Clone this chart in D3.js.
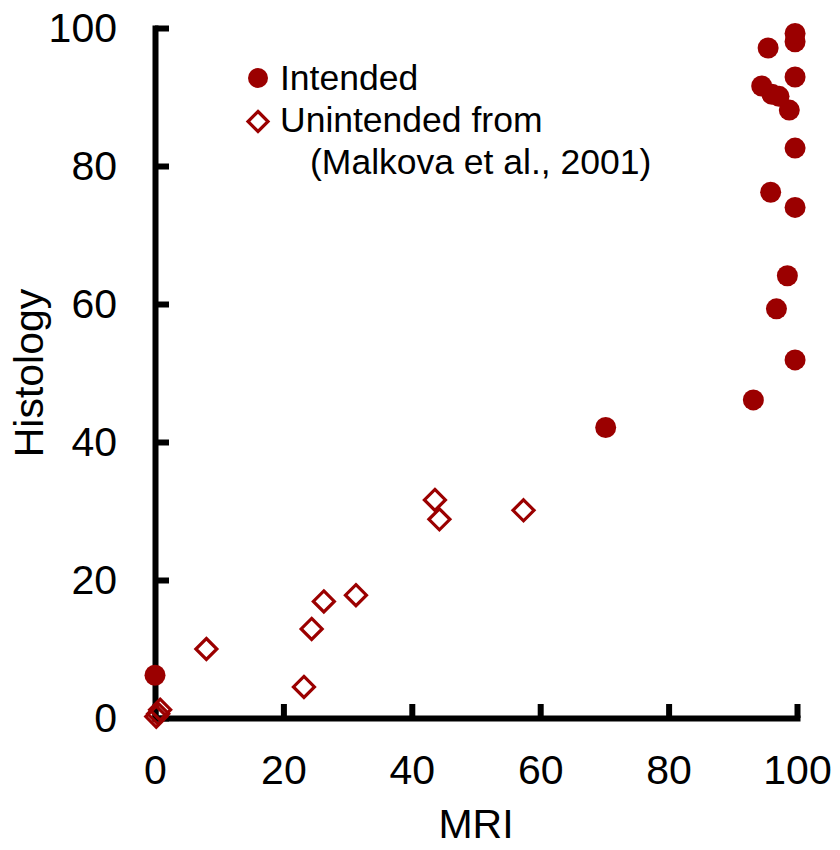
<!DOCTYPE html>
<html>
<head>
    <meta charset="utf-8" />
    <title>Histology vs MRI</title>
    <script src="https://d3js.org/d3.v7.min.js"></script>
    <style>
        body { margin: 0; background: #fff; }
        text { font-family: Arial, "Liberation Sans", sans-serif; }
    </style>
</head>
<body>
<svg width="840" height="850"></svg>

<script>
    // Data
    var intendedX = [0, 70.2, 93.2, 99.7, 96.8, 98.5, 99.7, 95.9, 99.7, 98.8, 97.2, 96.1, 94.5, 99.7, 95.5, 99.7, 99.7];
    var intendedY = [6.2, 42.1, 46.1, 51.9, 59.3, 64.1, 74.0, 76.2, 82.6, 88.1, 90.1, 90.4, 91.6, 92.9, 97.1, 98.0, 99.2];
    var unintendedX = [0.2, 0.5, 0.8, 8.0, 23.2, 24.4, 26.3, 31.3, 43.6, 44.3, 57.4];
    var unintendedY = [0.2, 0.6, 1.2, 10.0, 4.5, 12.9, 16.9, 17.8, 31.6, 28.8, 30.1];
    var ticks = [0, 20, 40, 60, 80, 100];
    var legendLabels = ["Intended", "Unintended from", "(Malkova et al., 2001)"];

    var red = "#9b0000";

    var svg = d3.select("svg");

    // Scales
    var x = d3.scaleLinear().domain([0, 100]).range([155, 797]);
    var y = d3.scaleLinear().domain([0, 100]).range([718, 28]);

    // x axis
    var xAxis = svg.append("g")
        .attr("transform", "translate(0," + y(0) + ")")
        .call(d3.axisBottom(x).tickValues(ticks).tickSize(-14).tickSizeOuter(0).tickPadding(37));

    // y axis
    var yAxis = svg.append("g")
        .attr("transform", "translate(" + x(0) + ",0)")
        .call(d3.axisLeft(y).tickValues(ticks).tickSize(-14).tickSizeOuter(0).tickPadding(38));

    [xAxis, yAxis].forEach(function (a) {
        a.select(".domain").attr("stroke", "#000").attr("stroke-width", 6).attr("stroke-linecap", "square");
        a.selectAll(".tick line").attr("stroke", "#000").attr("stroke-width", 6);
        a.selectAll(".tick text")
            .attr("fill", "#000")
            .style("font-size", "41px")
            .style("font-family", "Arial, 'Liberation Sans', sans-serif");
    });

    // Axis titles
    svg.append("text")
        .attr("x", (x(0) + x(100)) / 2)
        .attr("y", 838)
        .attr("text-anchor", "middle")
        .style("font-size", "41px")
        .text("MRI");

    svg.append("text")
        .attr("transform", "translate(43," + ((y(0) + y(100)) / 2) + ") rotate(-90)")
        .attr("text-anchor", "middle")
        .style("font-size", "41px")
        .text("Histology");

    // Unintended (open diamonds)
    var unintended = unintendedX.map(function (d, i) { return { x: d, y: unintendedY[i] }; });
    var diamond = function (cx, cy, r) {
        return "M" + cx + "," + (cy - r) + "L" + (cx + r) + "," + cy + "L" + cx + "," + (cy + r) + "L" + (cx - r) + "," + cy + "Z";
    };

    svg.selectAll(".unint")
        .data(unintended)
        .enter()
        .append("path")
        .attr("class", "unint")
        .attr("d", function (d) { return diamond(x(d.x), y(d.y), 10.5); })
        .attr("fill", "none")
        .attr("stroke", red)
        .attr("stroke-width", 3.2);

    // Intended (filled circles)
    var intended = intendedX.map(function (d, i) { return { x: d, y: intendedY[i] }; });
    svg.selectAll(".int")
        .data(intended)
        .enter()
        .append("circle")
        .attr("class", "int")
        .attr("cx", function (d) { return x(d.x); })
        .attr("cy", function (d) { return y(d.y); })
        .attr("r", 10.5)
        .attr("fill", red);

    // Legend
    var lg = svg.append("g");
    lg.append("circle").attr("cx", 258).attr("cy", 78).attr("r", 10).attr("fill", red);
    lg.append("path").attr("d", diamond(258, 121.5, 10)).attr("fill", "none").attr("stroke", red).attr("stroke-width", 3.2);

    lg.selectAll("text")
        .data(legendLabels)
        .enter()
        .append("text")
        .attr("x", function (d, i) { return i < 2 ? 280 : 310; })
        .attr("y", function (d, i) { return 90 + i * 42; })
        .style("font-size", "35.5px")
        .attr("fill", "#000")
        .text(function (d) { return d; });
</script>
</body>
</html>
